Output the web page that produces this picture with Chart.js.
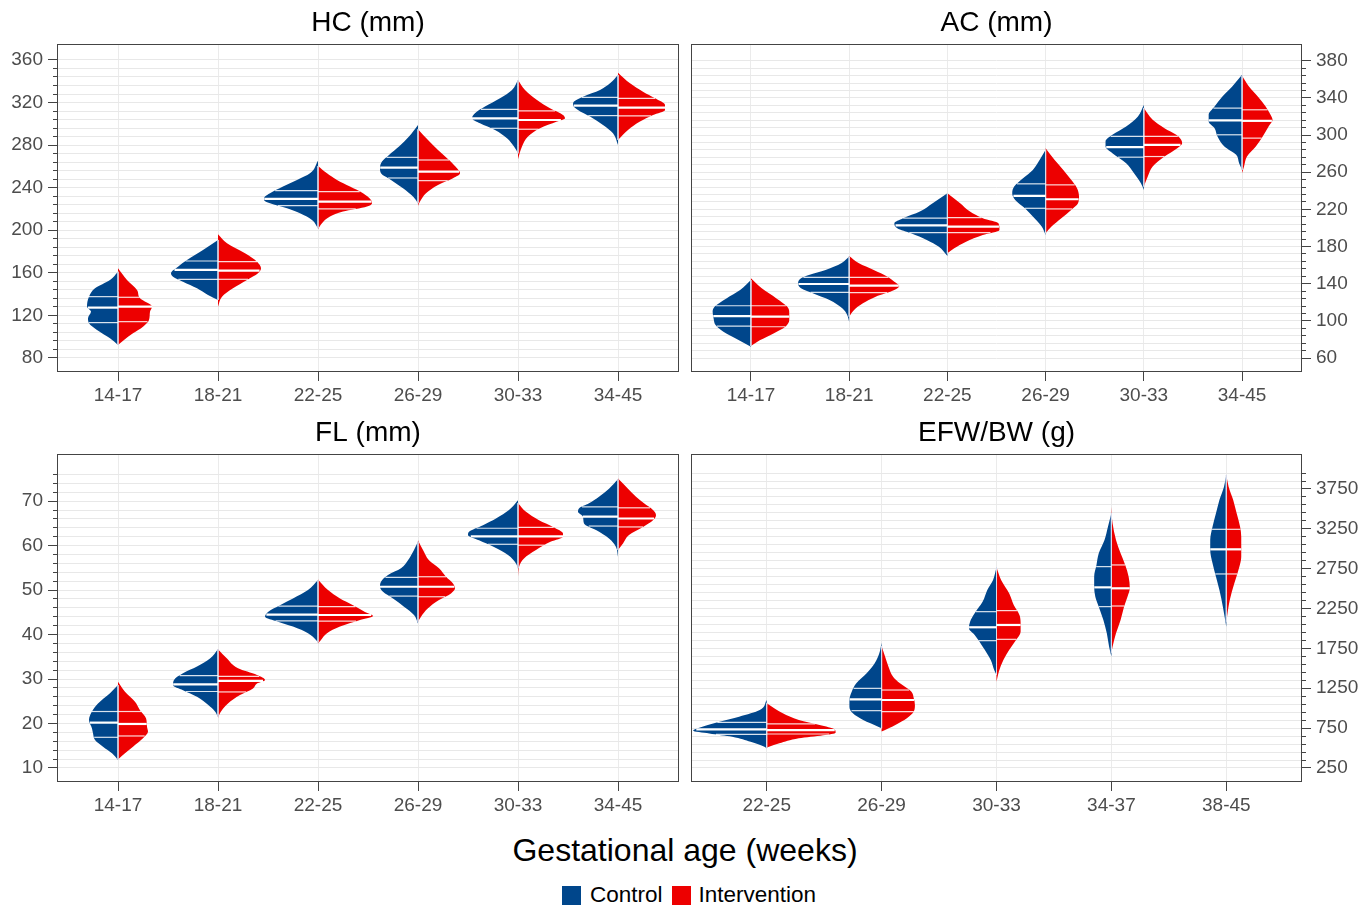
<!DOCTYPE html>
<html>
<head>
<meta charset="utf-8">
<script src="https://cdn.jsdelivr.net/npm/chart.js@4.4.1/dist/chart.umd.min.js"></script>
<style>
  html, body { margin: 0; padding: 0; background: #fff; }
  body { width: 1363px; height: 909px; position: relative; overflow: hidden; font-family: "Liberation Sans", Arial, sans-serif; }
  canvas { position: absolute; }
  #xtitle { position: absolute; left: 0; width: 1370px; top: 834px; text-align: center; font-size: 32px; line-height: 32px; color: #000; }
  #legend { position: absolute; left: 562px; top: 885px; display: flex; align-items: center; font-size: 22.5px; line-height: 20px; color: #000; }
  #legend .sw { width: 19px; height: 19px; display: inline-block; }
</style>
</head>
<body>
<canvas id="hc" width="682" height="410" style="left:0;top:0"></canvas>
<canvas id="ac" width="681" height="410" style="left:682px;top:0"></canvas>
<canvas id="fl" width="682" height="410" style="left:0;top:410px"></canvas>
<canvas id="efw" width="681" height="410" style="left:682px;top:410px"></canvas>
<div id="xtitle">Gestational age (weeks)</div>
<div id="legend">
  <span class="sw" style="background:#00468B"></span><span style="margin-left:9px">Control</span>
  <span class="sw" style="background:#ED0000;margin-left:9px"></span><span style="margin-left:8px">Intervention</span>
</div>
<script>
// ---------------- DATA ----------------
// Each violin half: list of [value, halfWidth] from top tip to bottom tip.
const hcCategories = ['14-17','18-21','22-25','26-29','30-33','34-45'];
const hcTickLabels = [80,120,160,200,240,280,320,360];
const hcControlShape = [
 [[161.1,0],[153.3,0.08],[145.5,0.23],[137.6,0.29],[128.2,0.31],[123.6,0.27],[117.3,0.30],[112.6,0.29],[106.3,0.21],[98.5,0.08],[92.2,0]],
 [[190.9,0],[181.5,0.15],[172.1,0.31],[165.8,0.40],[159.6,0.47],[156.4,0.45],[151.7,0.35],[145.5,0.21],[139.2,0.10],[134.5,0]],
 [[265.4,0],[253.5,0.08],[247.3,0.21],[241.0,0.35],[234.7,0.48],[231.6,0.53],[228.5,0.54],[225.3,0.48],[220.6,0.31],[215.9,0.18],[209.7,0.06],[201.8,0]],
 [[298.9,0],[288.0,0.09],[278.6,0.19],[270.7,0.29],[264.5,0.36],[258.2,0.38],[253.5,0.37],[247.3,0.27],[239.4,0.15],[231.6,0.05],[225.3,0]],
 [[341.2,0],[331.8,0.06],[324.0,0.18],[316.2,0.33],[309.9,0.43],[305.2,0.46],[300.5,0.38],[294.2,0.23],[286.4,0.11],[278.6,0.04],[272.3,0]],
 [[345.9,0],[338.1,0.08],[331.8,0.18],[325.5,0.35],[320.9,0.44],[317.7,0.45],[313.0,0.40],[306.8,0.28],[298.9,0.15],[291.1,0.05],[280.1,0]]
];
const hcInterventionShape = [
 [[164.3,0],[153.3,0.09],[143.9,0.19],[136.1,0.22],[128.2,0.34],[123.5,0.32],[115.7,0.31],[109.4,0.25],[103.2,0.15],[96.9,0.06],[92.2,0]],
 [[196.2,0],[187.7,0.09],[178.3,0.27],[170.5,0.39],[164.3,0.43],[159.6,0.40],[153.3,0.29],[145.5,0.15],[137.6,0.04],[128.2,0]],
 [[260.4,0],[253.5,0.09],[247.3,0.19],[241.0,0.32],[234.7,0.45],[228.5,0.53],[225.3,0.54],[222.2,0.49],[217.5,0.25],[212.8,0.12],[206.5,0.04],[200.9,0]],
 [[294.9,0],[284.8,0.10],[275.4,0.20],[266.0,0.31],[258.2,0.39],[253.5,0.42],[248.8,0.35],[242.6,0.20],[234.7,0.08],[226.9,0.02],[223.1,0]],
 [[341.2,0],[331.8,0.07],[322.4,0.19],[314.6,0.32],[308.3,0.45],[305.2,0.47],[302.1,0.39],[295.8,0.22],[288.0,0.10],[278.6,0.04],[266.7,0]],
 [[348.1,0],[338.1,0.12],[330.2,0.25],[324.0,0.37],[317.7,0.47],[313.0,0.47],[308.3,0.35],[302.1,0.22],[294.2,0.10],[284.8,0]]
];
const hcControlQuartiles = [[113.2,127.3,137.6],[153.9,162.7,171.1],[223.1,229.4,237.2],[249.1,258.8,268.5],[295.8,305.2,313.6],[307.7,317.1,324.9]];
const hcInterventionQuartiles = [[114.1,128.2,137.0],[153.9,162.0,170.5],[220.0,226.9,236.3],[246.6,255.1,266.0],[294.9,303.6,312.1],[307.4,315.2,324.0]];

const acCategories = ['14-17','18-21','22-25','26-29','30-33','34-45'];
const acTickLabels = [60,100,140,180,220,260,300,340,380];
const acControlShape = [
 [[144.0,0],[133.2,0.11],[124.2,0.25],[115.2,0.37],[109.8,0.39],[102.7,0.38],[95.5,0.36],[88.3,0.28],[80.9,0.15],[72.2,0]],
 [[169.2,0],[162.0,0.08],[154.8,0.24],[149.4,0.41],[145.8,0.49],[140.4,0.52],[135.0,0.49],[129.7,0.37],[122.4,0.20],[113.5,0.07],[106.3,0.02],[99.1,0]],
 [[237.4,0],[226.6,0.15],[217.6,0.28],[210.5,0.45],[205.1,0.54],[199.7,0.51],[194.3,0.37],[187.1,0.21],[180.0,0.09],[169.9,0]],
 [[284.1,0],[273.3,0.06],[262.5,0.13],[253.6,0.23],[244.6,0.32],[237.4,0.34],[230.2,0.31],[221.2,0.21],[212.3,0.13],[201.5,0.04],[192.5,0]],
 [[332.6,0],[320.0,0.06],[309.2,0.18],[300.3,0.32],[293.1,0.39],[287.7,0.39],[280.5,0.32],[269.7,0.18],[258.9,0.10],[248.2,0.03],[241.0,0]],
 [[364.9,0],[352.3,0.10],[341.6,0.20],[330.8,0.28],[321.8,0.34],[314.6,0.34],[307.4,0.28],[298.5,0.25],[287.7,0.18],[278.7,0.06],[269.7,0.03],[262.5,0]]
];
const acInterventionShape = [
 [[145.8,0],[135.0,0.11],[124.2,0.26],[115.2,0.37],[109.8,0.39],[100.9,0.39],[93.7,0.35],[86.5,0.23],[79.1,0.09],[72.9,0]],
 [[169.9,0],[162.0,0.10],[154.8,0.25],[147.6,0.39],[142.2,0.46],[137.5,0.51],[133.2,0.46],[126.0,0.27],[118.9,0.14],[111.7,0.05],[104.5,0]],
 [[237.4,0],[226.6,0.13],[217.6,0.23],[210.5,0.36],[205.1,0.52],[197.9,0.53],[192.5,0.36],[185.3,0.19],[178.1,0.07],[172.7,0]],
 [[285.9,0],[273.3,0.09],[262.5,0.18],[251.8,0.26],[242.8,0.32],[233.8,0.34],[226.6,0.33],[219.4,0.26],[210.5,0.16],[201.5,0.06],[194.3,0]],
 [[329.0,0],[316.4,0.09],[307.4,0.21],[300.3,0.33],[294.9,0.38],[291.3,0.39],[285.9,0.34],[276.9,0.21],[266.1,0.09],[255.4,0.04],[244.6,0]],
 [[363.8,0],[352.3,0.07],[341.6,0.16],[330.8,0.24],[321.8,0.29],[316.4,0.31],[309.2,0.27],[298.5,0.21],[287.7,0.14],[276.9,0.05],[266.1,0.02],[258.9,0]]
];
const acControlQuartiles = [[94.4,105.2,116.3],[130.7,139.7,146.9],[195.0,202.9,210.5],[221.2,234.5,247.5],[276.2,287.0,298.5],[300.3,315.7,329.0]];
const acInterventionQuartiles = [[93.7,104.5,116.3],[130.4,137.9,146.9],[195.0,201.5,211.2],[220.5,230.9,246.4],[276.9,289.5,298.5],[296.7,315.3,327.2]];

const flCategories = ['14-17','18-21','22-25','26-29','30-33','34-45'];
const flTickLabels = [10,20,30,40,50,60,70];
const flControlShape = [
 [[28.65,0],[26.8,0.08],[24.5,0.20],[22.7,0.26],[20.8,0.29],[18.9,0.26],[17.8,0.25],[16.3,0.23],[14.8,0.15],[13.3,0.06],[11.8,0]],
 [[36.7,0],[34.6,0.08],[32.8,0.21],[31.3,0.35],[29.8,0.44],[28.6,0.45],[27.5,0.35],[26.0,0.21],[24.2,0.10],[22.7,0.03],[21.5,0]],
 [[52.25,0],[50.0,0.10],[48.1,0.25],[46.6,0.38],[45.1,0.50],[44.0,0.53],[42.9,0.40],[41.8,0.25],[40.3,0.10],[38.8,0.02],[38.2,0]],
 [[60.9,0],[59.0,0.04],[56.7,0.10],[54.9,0.17],[53.4,0.30],[51.9,0.37],[50.75,0.38],[49.6,0.35],[48.1,0.25],[46.25,0.14],[44.4,0.04],[42.5,0]],
 [[70.2,0],[68.0,0.09],[66.1,0.22],[64.6,0.35],[63.1,0.49],[62.4,0.50],[61.2,0.39],[59.7,0.24],[57.9,0.10],[56.0,0.02],[54.9,0]],
 [[74.9,0],[72.8,0.09],[71.0,0.19],[69.5,0.29],[68.35,0.39],[67.6,0.40],[66.5,0.35],[65.0,0.34],[63.5,0.22],[61.6,0.09],[59.7,0.02],[57.5,0]]
];
const flInterventionShape = [
 [[29.4,0],[27.15,0.07],[24.9,0.17],[23.0,0.22],[21.2,0.28],[19.3,0.29],[18.2,0.30],[16.7,0.25],[14.8,0.15],[13.3,0.07],[11.9,0]],
 [[36.7,0],[34.6,0.09],[32.4,0.20],[30.9,0.39],[29.8,0.47],[29.0,0.39],[27.9,0.35],[26.4,0.22],[24.5,0.10],[22.7,0.03],[21.3,0]],
 [[52.4,0],[50.0,0.10],[48.1,0.22],[46.6,0.35],[45.1,0.47],[44.2,0.55],[43.3,0.42],[41.8,0.22],[40.3,0.09],[38.8,0.03],[38.0,0]],
 [[61.2,0],[59.0,0.05],[56.7,0.11],[54.9,0.21],[53.0,0.28],[51.5,0.35],[50.4,0.37],[49.25,0.33],[47.75,0.21],[45.9,0.10],[44.0,0.03],[42.9,0]],
 [[69.6,0],[67.6,0.08],[65.7,0.21],[64.2,0.35],[62.7,0.45],[62.0,0.45],[60.9,0.33],[59.0,0.18],[57.1,0.06],[55.2,0.01],[53.0,0]],
 [[75.1,0],[72.8,0.10],[71.0,0.18],[69.5,0.26],[68.0,0.35],[66.85,0.38],[65.7,0.35],[64.2,0.25],[62.4,0.11],[60.5,0.05],[59.0,0]]
];
const flControlQuartiles = [[16.9,20.2,22.7],[27.2,28.8,30.75],[43.1,44.5,46.4],[48.65,50.75,52.85],[60.3,62.1,63.9],[64.4,66.5,68.7]];
const flInterventionQuartiles = [[17.2,19.9,22.7],[27.1,29.6,30.6],[43.0,44.4,46.3],[48.5,50.75,53.0],[60.1,62.1,64.1],[64.2,66.1,68.5]];

const efwCategories = ['22-25','26-29','30-33','34-37','38-45'];
const efwTickLabels = [250,750,1250,1750,2250,2750,3250,3750];
const efwControlShape = [
 [[1103,0],[977,0.06],[894,0.24],[831,0.41],[768,0.56],[718,0.64],[684,0.50],[643,0.30],[580,0.14],[517,0.02],[497,0]],
 [[1822,0],[1688,0.02],[1563,0.06],[1437,0.13],[1312,0.22],[1207,0.26],[1103,0.28],[1019,0.28],[936,0.25],[852,0.16],[768,0.03],[747,0]],
 [[2767,0],[2608,0.03],[2483,0.08],[2337,0.12],[2190,0.19],[2086,0.23],[2002,0.24],[1918,0.19],[1772,0.12],[1605,0.05],[1479,0.02],[1417,0]],
 [[3445,0],[3277,0.03],[3110,0.06],[2943,0.11],[2797,0.13],[2650,0.15],[2525,0.15],[2399,0.14],[2274,0.11],[2107,0.07],[1939,0.04],[1772,0.02],[1647,0]],
 [[3926,0],[3779,0.02],[3612,0.06],[3445,0.09],[3277,0.12],[3110,0.14],[2985,0.14],[2817,0.12],[2650,0.09],[2483,0.06],[2274,0.03],[2023,0]]
];
const efwInterventionShape = [
 [[1061,0],[936,0.14],[852,0.28],[789,0.46],[735,0.59],[693,0.60],[660,0.49],[622,0.28],[559,0.11],[517,0.02],[505,0]],
 [[1780,0],[1647,0.03],[1521,0.06],[1396,0.10],[1312,0.16],[1207,0.26],[1124,0.28],[1040,0.29],[957,0.28],[873,0.22],[789,0.12],[706,0]],
 [[2767,0],[2608,0.04],[2441,0.11],[2295,0.15],[2169,0.20],[2065,0.21],[1960,0.21],[1856,0.17],[1730,0.11],[1605,0.06],[1458,0.02],[1333,0]],
 [[3528,0],[3319,0.01],[3110,0.04],[2943,0.08],[2797,0.12],[2650,0.15],[2504,0.16],[2399,0.14],[2274,0.11],[2107,0.08],[1939,0.04],[1772,0.01],[1697,0]],
 [[3926,0],[3779,0.02],[3612,0.06],[3445,0.09],[3277,0.12],[3152,0.13],[3027,0.13],[2901,0.13],[2755,0.11],[2567,0.07],[2357,0.03],[2086,0]]
];
const efwControlQuartiles = [[672,735,823],[969,1111,1249],[1847,2015,2211],[2274,2516,2776],[2684,2993,3244]];
const efwInterventionQuartiles = [[676,726,802],[957,1103,1228],[1864,2044,2224],[2282,2504,2797],[2684,2993,3244]];

// ---------------- RENDERING ----------------
const BLUE = '#00468B', RED = '#ED0000';
const FONT = '"Liberation Sans", Arial, sans-serif';
const AXIS_COL = '#444';

function widthAt(shape, v) {
  for (let k = 0; k < shape.length - 1; k++) {
    const [v1, w1] = shape[k], [v2, w2] = shape[k + 1];
    if (v <= v1 && v >= v2) { const t = (v1 - v) / (v1 - v2 || 1); return w1 + (w2 - w1) * t; }
  }
  return 0;
}

function buildDatasets(ctrl, intv, ctrlQ, intQ) {
  const ds = [];
  ctrl.forEach((_, idx) => {
    const i = idx + 1;
    const halves = [[ctrl[idx], ctrlQ[idx], -1, BLUE], [intv[idx], intQ[idx], 1, RED]];
    halves.forEach(([shape, q, side, color]) => {
      ds.push({
        data: shape.map(([v, w]) => ({x: i + side * w, y: v})),
        backgroundColor: color, borderWidth: 0, fill: 'shape',
        cubicInterpolationMode: 'monotone', pointRadius: 0, order: 3
      });
      q.forEach((qv, k) => {
        const w = widthAt(shape, qv);
        ds.push({
          data: [{x: i, y: qv}, {x: i + side * w, y: qv}],
          borderColor: k === 1 ? '#ffffff' : 'rgba(255,255,255,0.85)',
          borderWidth: k === 1 ? 2.2 : 1.2, fill: false, tension: 0, pointRadius: 0, order: 1
        });
      });
    });
    const lo = Math.max(ctrl[idx][ctrl[idx].length - 1][0], intv[idx][intv[idx].length - 1][0]);
    const hi = Math.min(ctrl[idx][0][0], intv[idx][0][0]);
    ds.push({ data: [{x: i, y: hi}, {x: i, y: lo}], borderColor: 'rgba(215,220,235,0.9)', borderWidth: 1,
      fill: false, tension: 0, pointRadius: 0, order: 2 });
  });
  return ds;
}

const framePlugin = {
  id: 'frame',
  afterDraw(chart) {
    const {ctx, chartArea: a} = chart;
    ctx.save();
    ctx.strokeStyle = AXIS_COL; ctx.lineWidth = 1;
    ctx.strokeRect(Math.round(a.left) - 0.5, Math.round(a.top) + 0.5, Math.round(a.right - a.left) + 1, Math.round(a.bottom - a.top) - 1);
    ctx.restore();
  }
};

function makeChart(id, p) {
  const side = p.side;
  return new Chart(document.getElementById(id), {
    type: 'line',
    data: { datasets: buildDatasets(p.ctrl, p.intv, p.ctrlQ, p.intQ) },
    plugins: [framePlugin],
    options: {
      indexAxis: 'y',
      responsive: false, animation: false, devicePixelRatio: 1,
      layout: { padding: { left: p.padLeft, right: p.padRight, top: 0, bottom: 0 } },
      plugins: {
        legend: { display: false }, tooltip: { enabled: false },
        title: { display: true, text: p.title, fullSize: false, color: '#000',
          font: { family: FONT, size: 28, weight: 'normal' }, padding: { top: 6, bottom: 4.4 } }
      },
      scales: {
        x: {
          type: 'linear', position: 'bottom', min: p.xMin, max: p.xMax,
          afterBuildTicks: s => { s.ticks = p.cats.map((c, k) => ({ value: k + 1 })); },
          afterFit: s => { s.height = 38; },
          ticks: { autoSkip: false, maxRotation: 0, color: '#4d4d4d', padding: 3,
            font: { family: FONT, size: 19 }, callback: v => p.cats[Math.round(v) - 1] || '' },
          grid: { color: '#ebebeb', lineWidth: 1, tickColor: AXIS_COL, tickLength: 9, tickWidth: 1 },
          border: { display: false }
        },
        y: {
          type: 'linear', position: side, min: p.yMin, max: p.yMax, weight: 1,
          afterBuildTicks: s => { s.ticks = p.labels.map(v => ({ value: v })); },
          afterFit: s => { s.width = p.axisWidth; },
          ticks: { autoSkip: false, color: '#4d4d4d', padding: 5, font: { family: FONT, size: 19 },
            callback: v => String(v) },
          grid: { drawOnChartArea: false, tickColor: AXIS_COL, tickLength: 10, tickWidth: 1 },
          border: { display: false }
        },
        yMinor: {
          type: 'linear', position: side, min: p.yMin, max: p.yMax, weight: 0,
          afterBuildTicks: s => {
            const t = [];
            for (let v = p.minorStart; v <= p.minorEnd + 1e-9; v += p.minorStep) t.push({ value: v });
            s.ticks = t;
          },
          afterFit: s => { s.width = 0; },
          ticks: { display: false, autoSkip: false },
          grid: { color: '#e8e8e8', lineWidth: 1, tickColor: AXIS_COL, tickLength: 5, tickWidth: 1 },
          border: { display: false }
        }
      }
    }
  });
}

makeChart('hc', { title: 'HC (mm)', cats: hcCategories, labels: hcTickLabels,
  ctrl: hcControlShape, intv: hcInterventionShape, ctrlQ: hcControlQuartiles, intQ: hcInterventionQuartiles,
  yMin: 66.8, yMax: 375, minorStart: 80, minorEnd: 360, minorStep: 8,
  xMin: 0.4, xMax: 6.6, side: 'left', padLeft: 0, padRight: 4, axisWidth: 58 });

makeChart('ac', { title: 'AC (mm)', cats: acCategories, labels: acTickLabels,
  ctrl: acControlShape, intv: acInterventionShape, ctrlQ: acControlQuartiles, intQ: acInterventionQuartiles,
  yMin: 45, yMax: 398, minorStart: 60, minorEnd: 380, minorStep: 8,
  xMin: 0.4, xMax: 6.6, side: 'right', padLeft: 10, padRight: 0, axisWidth: 62 });

makeChart('fl', { title: 'FL (mm)', cats: flCategories, labels: flTickLabels,
  ctrl: flControlShape, intv: flInterventionShape, ctrlQ: flControlQuartiles, intQ: flInterventionQuartiles,
  yMin: 6.85, yMax: 80.6, minorStart: 10, minorEnd: 76, minorStep: 2,
  xMin: 0.4, xMax: 6.6, side: 'left', padLeft: 0, padRight: 4, axisWidth: 58 });

makeChart('efw', { title: 'EFW/BW (g)', cats: efwCategories, labels: efwTickLabels,
  ctrl: efwControlShape, intv: efwInterventionShape, ctrlQ: efwControlQuartiles, intQ: efwInterventionQuartiles,
  yMin: 74, yMax: 4189, minorStart: 250, minorEnd: 3950, minorStep: 100,
  xMin: 0.35, xMax: 5.65, side: 'right', padLeft: 10, padRight: 0, axisWidth: 62 });
</script>
</body>
</html>
